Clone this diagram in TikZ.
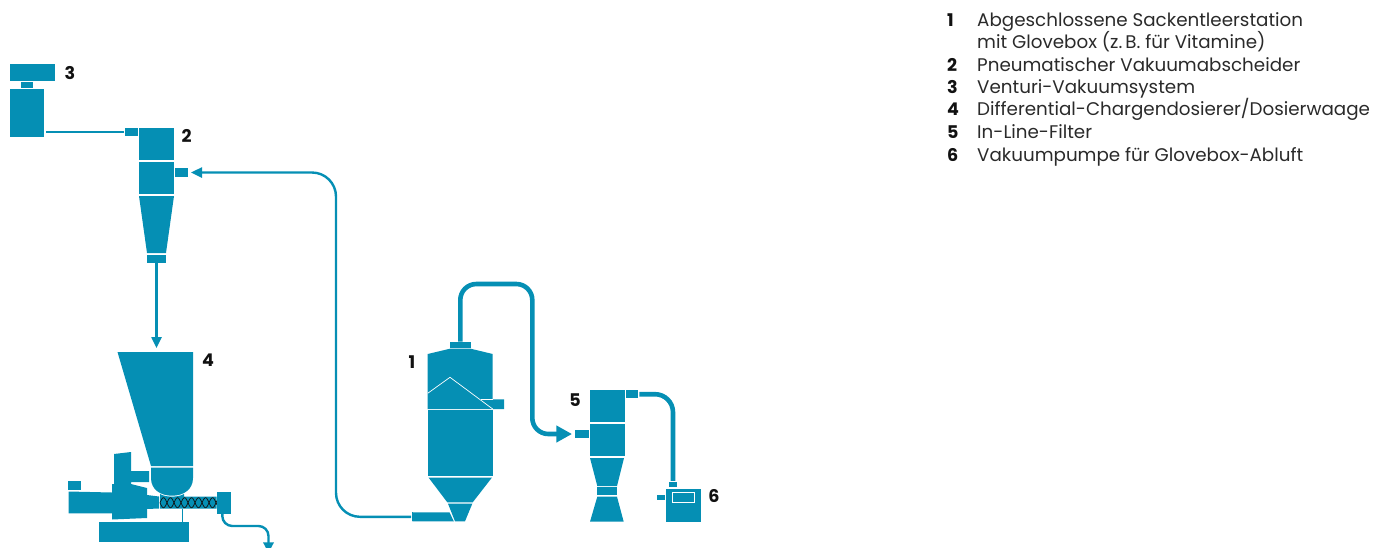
\documentclass[tikz,border=0pt]{standalone}
\usepackage{fontspec}
\setmainfont{Poppins}
\usetikzlibrary{arrows.meta}
\definecolor{plant}{HTML}{058FB4}
\definecolor{ink}{HTML}{111111}
\definecolor{legend}{HTML}{2A2A2A}
\tikzset{
  part/.style={fill=plant, inner sep=0pt, outer sep=0pt},
  pipe/.style={draw=plant, line width=2.4pt},
  fatpipe/.style={draw=plant, line width=4.6pt},
  tagnum/.style={font=\fontsize{17.5}{20}\selectfont\bfseries, text=ink, inner sep=0pt},
  legnum/.style={font=\fontsize{17.5}{20}\selectfont\bfseries, text=ink, inner sep=0pt, anchor=base west},
  legtext/.style={font=\fontsize{18.3}{20}\selectfont, text=legend, inner sep=0pt, anchor=base west}
}
\begin{document}
\begin{tikzpicture}[x=1pt, y=-1pt]
  \useasboundingbox (0,0) rectangle (1385,547);
  \clip (0,0) rectangle (1385,547);
  % venturi
  \node[part, minimum width=45, minimum height=17] (venthead) at (32.5,72.5) {};
  \node[part, minimum width=11.5, minimum height=6] (ventneck) at (27.2,85) {};
  \node[part, minimum width=34, minimum height=47.5] (ventbody) at (27,113.2) {};
  % separator
  \node[part, minimum width=12.5, minimum height=8.5] (sepin) at (131.7,132.2) {};
  \node[part, minimum width=35, minimum height=32.5] (sepup) at (156.5,144.2) {};
  \node[part, minimum width=35, minimum height=32.5] (seplow) at (156.5,178.2) {};
  \node[part, minimum width=13, minimum height=9] (sepside) at (181.5,172.5) {};
  \fill[plant] (139,196) -- (174,196) -- (166,253) -- (147,253) -- cycle;
  \node[part, minimum width=19, minimum height=8] (sepout) at (156.5,259) {};
  % dosing unit
  \fill[plant] (117.5,352) -- (193,352) -- (193,466) -- (151,466) -- cycle;
  \fill[plant] (151,467.5) -- (193,467.5) -- (193,478) .. controls (193,490) and (183,495.7) .. (172,495.7) .. controls (161,495.7) and (151,490) .. (151,478) -- cycle;
  \fill[plant] (114,454) -- (131,452) -- (131,471) -- (149,471) -- (149,482) -- (131,482) -- (131,484)
    -- (147,488) -- (147,495) -- (159,496.5) -- (159,508.5) -- (147,509) -- (147,518) -- (112,519.5)
    -- (112,513.3) -- (68.5,513.3) -- (68.5,491.5) -- (112,492.5) -- (112,484) -- (114,484) -- cycle;
  \node[part, minimum width=12.5, minimum height=9] (dosecap) at (74.7,485.5) {};
  \fill[plant] (160,508.7) -- (160,494) .. controls (166,497.5) and (178,497.5) .. (184,494) -- (184,496.7) -- (216.7,496.7) -- (216.7,508.7) -- cycle;
  \draw[ink, line width=0.7pt] plot[domain=160:217, samples=90] (\x,{502.7+5*sin((\x-160)*25.7)});
  \draw[ink, line width=0.7pt] plot[domain=160:217, samples=90] (\x,{502.7-5*sin((\x-160)*25.7)});
  \node[part, minimum width=13.5, minimum height=22] (doseend) at (223.8,503) {};
  \node[part, minimum width=90, minimum height=20] (dosebase) at (144,531.7) {};
  \draw[plant, line width=1.6pt] (182.3,509) -- (182.3,522);
  % bag station
  \node[part, minimum width=20.7, minimum height=6] (bagtop) at (460.3,344.7) {};
  \fill[plant] (427.7,354) -- (450,348.7) -- (470.7,348.7) -- (492.7,354) -- (492.7,409) -- (427.7,409) -- cycle;
  \fill[plant] (481,399.3) -- (504,399.3) -- (504,409) -- (493,409) -- cycle;
  \draw[white, line width=0.7pt] (427.7,393.3) -- (450,377.3) -- (492.7,409);
  \draw[white, line width=0.4pt] (481,399.3) -- (492.7,399.3);
  \fill[plant] (427.7,410.3) rectangle (492.7,476);
  \fill[plant] (428.5,477.5) -- (492,477.5) -- (472.7,502.3) -- (447.3,502.3) -- cycle;
  \fill[plant] (448,503.7) -- (472.3,503.7) -- (465,521.3) -- (455,521.3) -- cycle;
  \fill[plant] (412.3,512.3) -- (449.5,512.3) -- (453.8,521.3) -- (412.3,521.3) -- cycle;
  \node[part, minimum width=1, minimum height=9] (bagout) at (412.8,516.8) {};
  % filter
  \node[part, minimum width=14, minimum height=8] (filtin) at (582,434) {};
  \node[part, minimum width=35, minimum height=32] (filtup) at (607,406) {};
  \node[part, minimum width=35, minimum height=32.5] (filtlow) at (607,440.2) {};
  \node[part, minimum width=12.5, minimum height=8.5] (filtport) at (632.2,394.2) {};
  \fill[plant] (590,458) -- (624,458) -- (617,486) -- (597.3,486) -- cycle;
  \node[part, minimum width=19.7, minimum height=8] (filtneck) at (607.2,491) {};
  \fill[plant] (597.3,496.7) -- (617,496.7) -- (623.7,521.7) -- (590,521.7) -- cycle;
  % pump
  \node[part, minimum width=8, minimum height=5.5] (pumptop) at (673,484.7) {};
  \node[part, minimum width=8, minimum height=5] (pumpside) at (661,497.5) {};
  \node[part, minimum width=35, minimum height=33.2] (pumpbody) at (683.5,505.1) {};
  \draw[white, line width=0.7pt] (672.5,492.5) rectangle (694,502);
  % connectors
  \coordinate (riser) at (336,345);
  \coordinate (hopin) at (156.5,348);
  \coordinate (ductr) at (532.3,284);
  \coordinate (dropst) at (222.3,514);
  \coordinate (dropm) at (245,526);
  \coordinate (dropend) at (268.5,553);
  \draw[pipe, shorten <=2pt, shorten >=1.3pt] (ventbody.east |- sepin.west) -- (sepin.west);
  \draw[pipe, -{Triangle[length=11pt,width=10pt]}] (sepout.south) -- (hopin);
  \draw[pipe, rounded corners=24pt, -{Triangle[length=11pt,width=10pt]}, shorten <=1.3pt, shorten >=3pt] (bagout.west) -| (riser) |- (sepside.east);
  \draw[fatpipe, rounded corners=16pt, -{Triangle[length=15.6pt,width=16pt]}, shorten >=3pt] (bagtop.north) |- (ductr) |- (filtin.west);
  \draw[fatpipe, rounded corners=18pt, shorten <=1pt, shorten >=1pt] (filtport.east) -| (pumptop.north);
  \draw[pipe, rounded corners=10pt] (dropst) |- (dropm) -| (dropend);
  \fill[plant] (263,542.3) -- (274,542.3) -- (268.5,553) -- cycle;
  % numbers
  \foreach \n/\cx/\cy in {1/412/362, 2/186.5/136, 3/70/73, 4/208/360, 5/575/400, 6/714/496}{
    \node[tagnum] (tag\n) at (\cx,\cy) {\n};}
  % legend
  \foreach \n/\by/\txt in {1/26/Abgeschlossene Sackentleerstation, 2/71/Pneumatischer Vakuumabscheider, 3/93/Venturi-Vakuumsystem, 4/115.5/Differential-Chargendosierer\slash Dosierwaage, 5/138/In-Line-Filter, 6/161/Vakuumpumpe für Glovebox-Abluft}{
    \node[legnum] (num\n) at (947,\by) {\n};
    \node[legtext] (txt\n) at (977,\by) {\txt};}
  \node[legtext] (txt1b) at (977,48) {mit Glovebox (z.\,B. für Vitamine)};
\end{tikzpicture}
\end{document}
